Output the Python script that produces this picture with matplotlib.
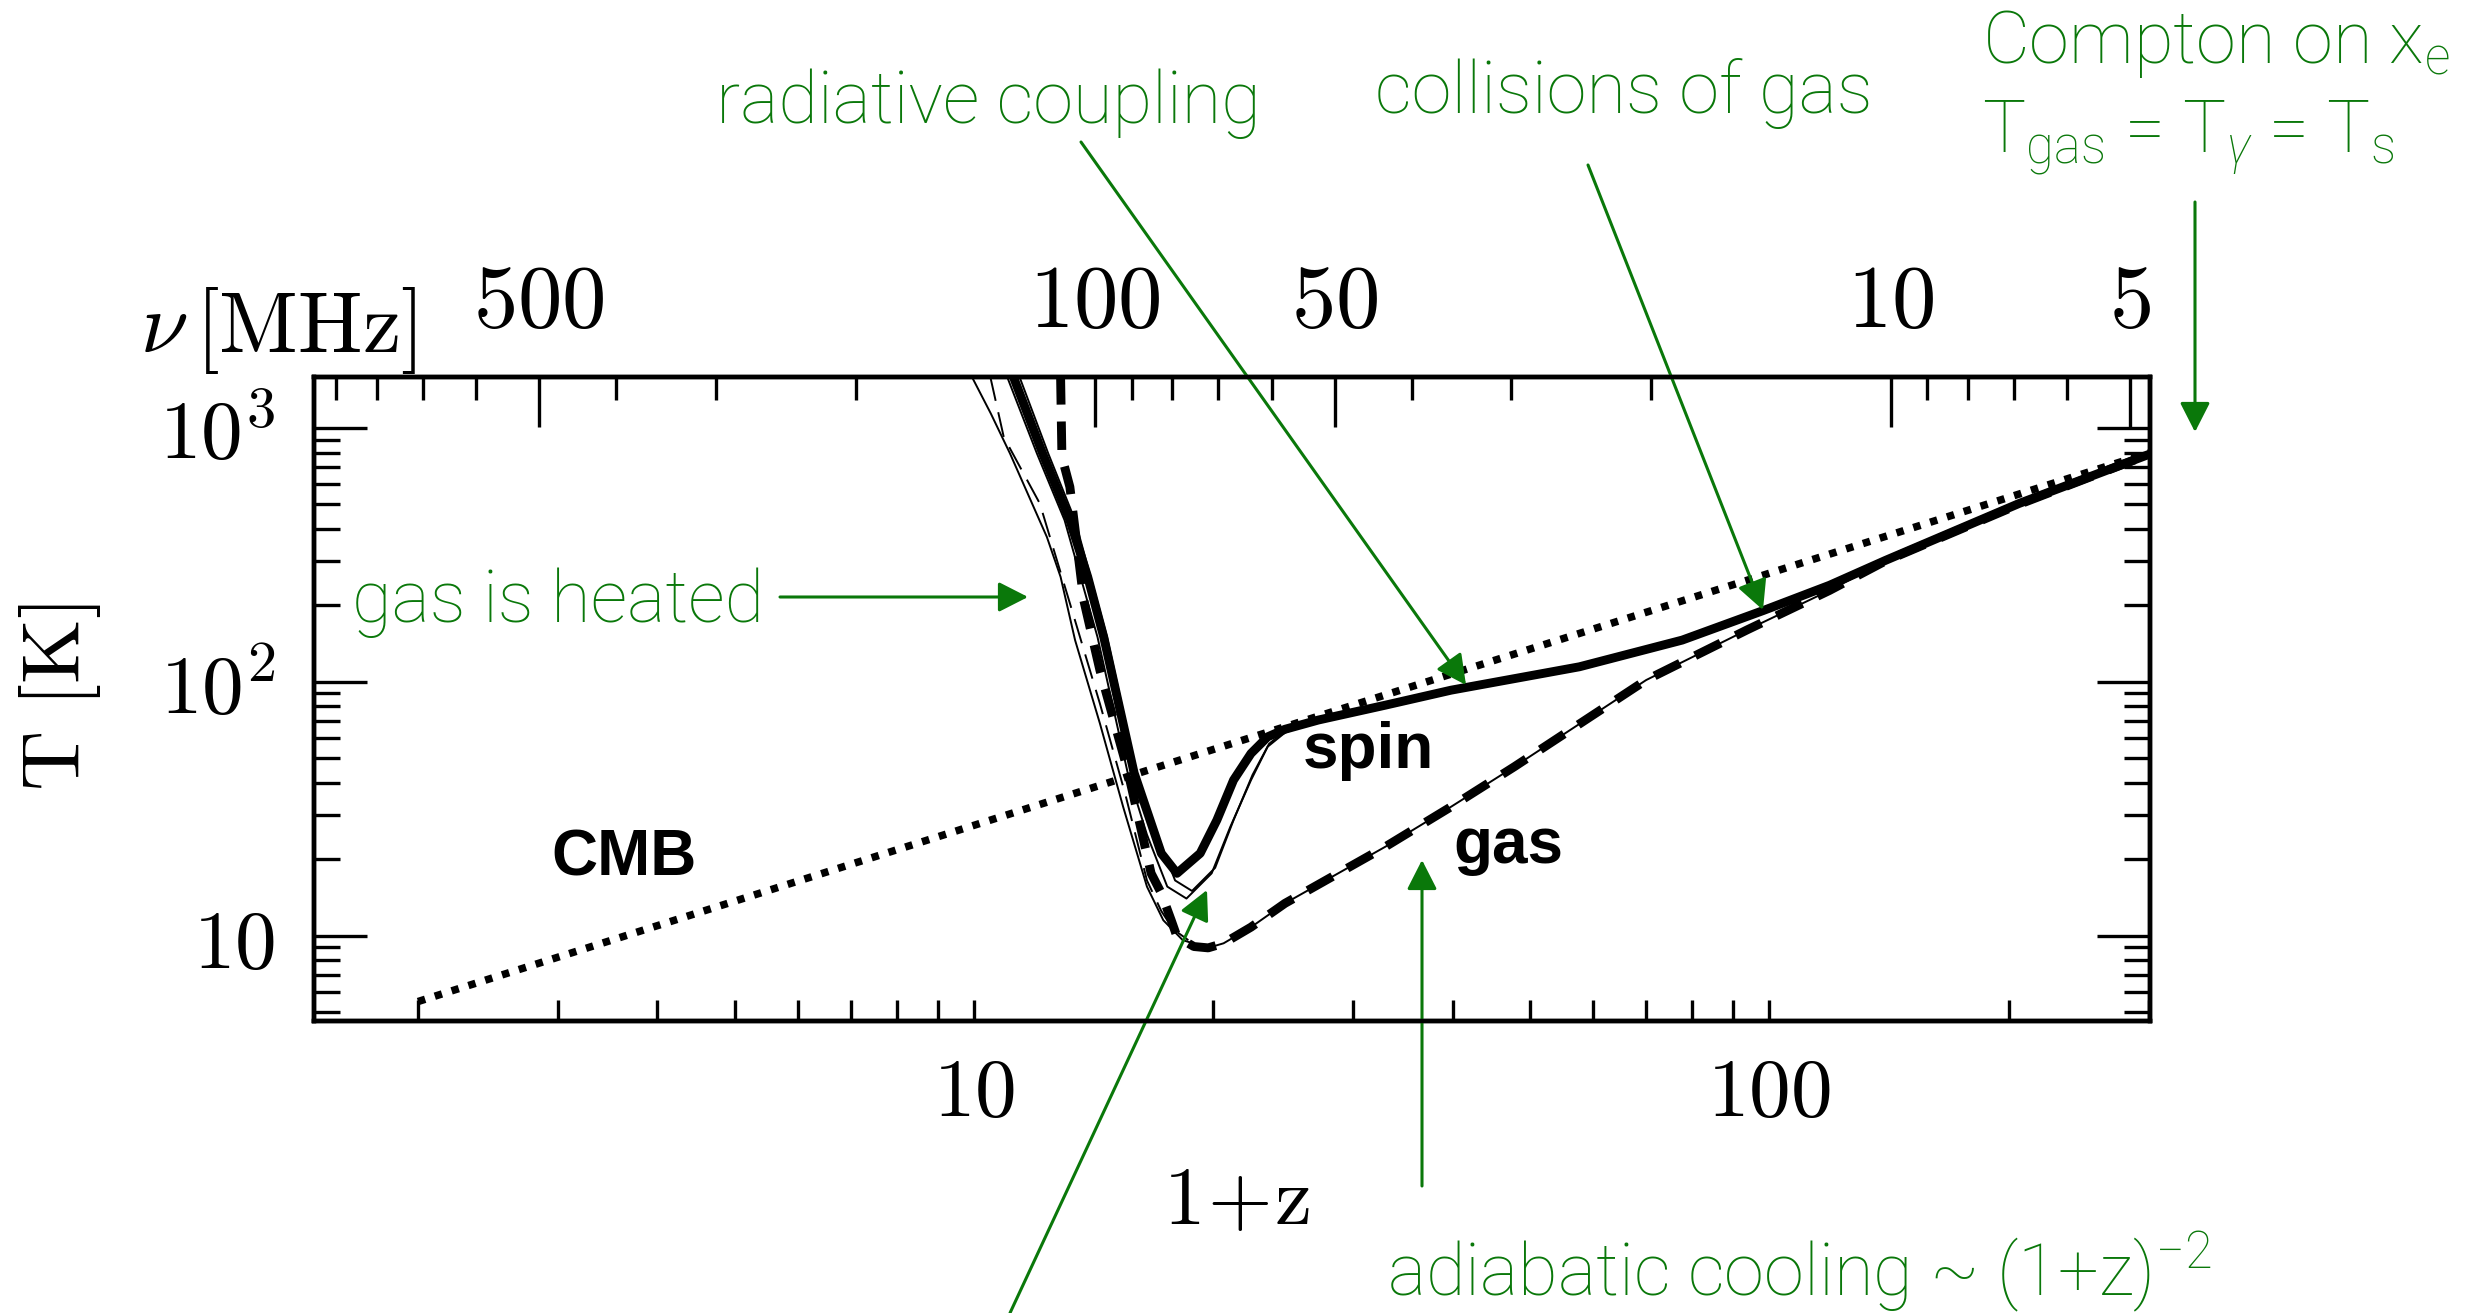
import numpy as np
import matplotlib
matplotlib.use("Agg")
import matplotlib.pyplot as plt
from matplotlib.ticker import LogLocator, NullFormatter

plt.rcParams["mathtext.fontset"] = "cm"
plt.rcParams["mathtext.rm"] = "Roboto:weight=light"
plt.rcParams["mathtext.it"] = "Roboto:style=italic:weight=light"

W, H = 2482, 1313
GREEN = "#0a780a"
NU21 = 1420.4  # MHz

# CMB temperature
cmb_z = [2.0, 301.0]
cmb_T = [5.5, 800.0]

# spin temperature, reference model (thick solid)
spin_z = [11.2, 12.2, 13.2, 13.9, 14.56, 15.9, 17.2, 18.0, 19.25, 20.2, 21.2, 22.3,
          23.4, 24.6, 27.1, 32.9, 39.8, 57.7, 77.7, 98.3, 119, 140, 206, 301]
spin_T = [1600, 793, 433, 259, 150, 43.7, 21.1, 17.6, 21.1, 28.5, 41, 52.2,
          60.7, 65, 70.7, 80.9, 92.7, 114.6, 146, 191, 240, 301, 504, 790]

# spin temperature, other models (thin solid)
spin2_z = [11.0, 12.0, 13.0, 14.3, 15.6, 16.5, 17.5, 18.5, 19.9, 21.0, 22.3, 23.4, 24.6, 27.1, 32.9]
spin2_T = [1600, 793, 433, 150, 44, 25, 15.6, 14.0, 17.6, 26.8, 41, 55.5, 63, 70.5, 80.9]
spin3_z = [11.4, 12.4, 13.4, 14.7, 16.0, 17.0, 17.9, 18.8, 20.1, 21.2, 22.4, 23.5, 24.6, 27.1]
spin3_T = [1600, 793, 433, 150, 44, 25, 16.5, 15.0, 18.5, 28.5, 43, 57, 64, 70.5]

# gas temperature, reference model (thick dashed)
gas_z = [12.85, 12.9, 13.2, 13.74, 14.4, 15.6, 16.7, 17.2, 17.7, 18.0, 18.9, 19.7, 20.6,
         22.3, 24.6, 32.9, 39.8, 47.8, 70.0, 93.7, 119, 139.6, 206, 301]
gas_T = [1600, 769, 586, 210, 111, 44.9, 17.6, 14.7, 11.5, 9.9, 9.06, 8.95, 9.33,
         10.8, 13.4, 22.4, 32.2, 46.3, 101.6, 160, 229, 298, 500, 790]

# gas temperature, late heating (thin solid)
gas2_z = [9.93, 10.5, 11.1, 12.35, 12.85, 13.4, 14.4, 15.4, 16.5, 17.3, 18.3, 19.7, 20.6,
          22.3, 24.6, 32.9, 39.8, 47.8, 70.0, 93.7, 119, 139.6, 206, 301]
gas2_T = [1600, 1140, 793, 372, 259, 146, 68.5, 32.2, 15.6, 11.5, 9.6, 8.95, 9.33,
          10.8, 13.4, 22.4, 32.2, 46.3, 101.6, 160, 229, 298, 500, 790]

# gas temperature, intermediate heating (thin dashed)
gas3_z = [10.48, 10.9, 12.1, 13.2, 14.4, 15.5, 16.5, 17.2, 17.8, 18.6]
gas3_T = [1600, 922, 504, 204, 82, 36, 16.5, 12.5, 10.6, 9.6]

# top axis: observed 21cm frequency
nu_major = [500, 100, 50, 10, 5]
nu_minor = [900, 800, 700, 600, 400, 300, 200, 90, 80, 70, 60, 40, 30, 20, 9, 8, 7, 6]

fig = plt.figure(figsize=(W / 100, H / 100), dpi=100)
ax = fig.add_axes([314 / W, 1 - 1021 / H, (2150 - 314) / W, (1021 - 377) / H])
ax.set_xscale("log")
ax.set_yscale("log")
ax.set_xlim(1.48, 301)
ax.set_ylim(4.61, 1588)

ax.plot(cmb_z, cmb_T, color="black", lw=5.4, linestyle=(0, (1, 1.35)), dash_capstyle="butt")
ax.plot(gas2_z, gas2_T, color="black", lw=1.4)
ax.plot(gas3_z, gas3_T, color="black", lw=1.4, linestyle=(0, (13, 6)))
ax.plot(spin2_z, spin2_T, color="black", lw=1.4)
ax.plot(spin3_z, spin3_T, color="black", lw=1.4)
ax.plot(spin_z, spin_T, color="black", lw=6.4, solid_capstyle="butt", solid_joinstyle="round")
ax.plot(gas_z, gas_T, color="black", lw=6.4, linestyle=(0, (3.2, 1.9)), dash_capstyle="butt")

ax.set_xticks([10, 100], [r"$10$", r"$100$"])
ax.xaxis.set_minor_locator(LogLocator(base=10, subs=np.arange(2, 10), numticks=50))
ax.xaxis.set_minor_formatter(NullFormatter())
ax.set_yticks([10, 100, 1000], [r"$10$", r"$10^2$", r"$10^3$"])
ax.yaxis.set_minor_locator(LogLocator(base=10, subs=np.arange(2, 10), numticks=50))
ax.yaxis.set_minor_formatter(NullFormatter())
ax.tick_params(axis="x", which="both", direction="in", bottom=True, top=False,
               length=15, width=2.4, labelsize=60, pad=22)
ax.tick_params(axis="y", which="major", direction="in", left=True, right=True,
               length=38, width=2.4, labelsize=60, pad=28)
ax.tick_params(axis="y", which="minor", direction="in", left=True, right=True,
               length=19, width=2.4)

top = ax.twiny()
top.set_xscale("log")
top.set_xlim(ax.get_xlim())
top.set_xticks(NU21 / np.array(nu_major), [rf"${n}$" for n in nu_major])
top.set_xticks(NU21 / np.array(nu_minor), minor=True)
top.xaxis.set_minor_formatter(NullFormatter())
top.tick_params(axis="x", which="major", direction="in", length=36, width=2.4,
                labelsize=64, pad=22)
top.tick_params(axis="x", which="minor", direction="in", length=16.5, width=2.4)

for a in (ax, top):
    for sp in a.spines.values():
        sp.set_linewidth(3.2)

ax.set_xlabel(r"$\mathrm{1\!+\!z}$", fontsize=60)
ax.xaxis.set_label_coords((1236 - 314) / 1836, (1021 - 1160) / 644)
ax.set_ylabel(r"$\mathrm{T\ [K]}$", fontsize=60)
ax.yaxis.set_label_coords((103 - 314) / 1836, (1021 - 697) / 644)
fig.text(140 / W, 1 - 352 / H, r"$\nu\,[\mathrm{MHz}]$", fontsize=62, va="baseline")

# curve names
for x, y, s in [(1303, 768, "spin"), (1453, 863, "gas"), (551, 876, "CMB")]:
    fig.text(x / W, 1 - y / H, s, fontsize=46, weight="bold",
             family="Liberation Sans", va="baseline")


def note(x, y, s):
    fig.text(x / W, 1 - y / H, s, color=GREEN, fontsize=52, family="Roboto",
             weight="light", va="baseline", math_fontfamily="custom")


def arrow(x0, y0, x1, y1):
    ax.annotate("", xy=(x1 / W, 1 - y1 / H), xycoords="figure fraction",
                xytext=(x0 / W, 1 - y0 / H), textcoords="figure fraction",
                arrowprops=dict(arrowstyle="-|>,head_length=0.55,head_width=0.28",
                                color=GREEN, lw=2.2, shrinkA=0, shrinkB=0,
                                mutation_scale=33))


note(716, 123, "radiative coupling")
note(1375, 113, "collisions of gas")
note(1982, 63, r"Compton on x$_\mathrm{e}$")
note(1982, 153, r"T$_\mathrm{gas}$ = T$_\gamma$ = T$_\mathrm{s}$")
note(352, 622, "gas is heated")
note(1387, 1295, r"adiabatic cooling ~ (1+z)$^\mathrm{-2}$")

arrow(780, 597, 1028, 597)
arrow(1081, 142, 1466, 685)
arrow(1588, 165, 1763, 610)
arrow(2195, 202, 2195, 432)
arrow(1422, 1186, 1422, 860)
arrow(1010, 1313, 1207, 890)

fig.savefig("out.png", dpi=100)
